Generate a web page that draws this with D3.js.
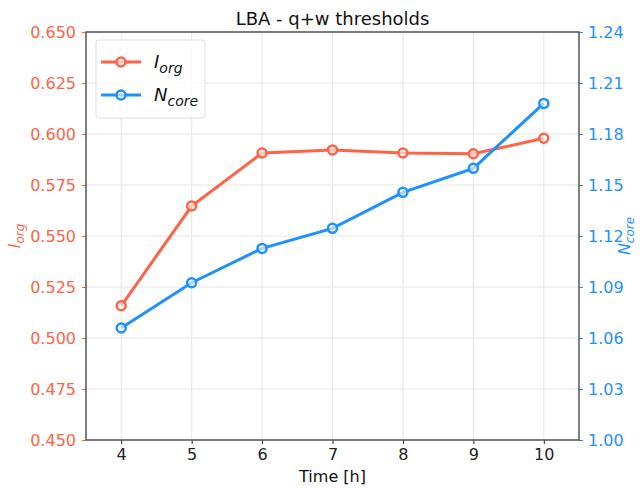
<!DOCTYPE html>
<html>
<head>
<meta charset="utf-8">
<script src="https://cdn.jsdelivr.net/npm/d3@7"></script>
<style>
  body { margin: 0; background: #fff; }
  text { font-family: "DejaVu Sans", sans-serif; }
</style>
</head>
<body>
<div id="chart"></div>
<script>
// data
const hours = [4, 5, 6, 7, 8, 9, 10];
const iorg = [0.5158, 0.5647, 0.5907, 0.5922, 0.5907, 0.5903, 0.5979];
const ncore = [1.0659, 1.0925, 1.1127, 1.1245, 1.1457, 1.1598, 1.1980];
const leftTicks = [0.450, 0.475, 0.500, 0.525, 0.550, 0.575, 0.600, 0.625, 0.650];
const rightTicks = [1.00, 1.03, 1.06, 1.09, 1.12, 1.15, 1.18, 1.21, 1.24];

const W = 642, H = 488;
const margin = { left: 86, right: 63, top: 32, bottom: 48 };
const width = W - margin.left - margin.right;
const height = H - margin.top - margin.bottom;
const orange = '#ff6347', blue = '#1e90ff';

const svg = d3.select('#chart').append('svg')
  .attr('width', W).attr('height', H);
const g = svg.append('g').attr('transform', `translate(${margin.left},${margin.top})`);

const x = d3.scaleLinear().domain([3.5, 10.5]).range([0, width]);
const yL = d3.scaleLinear().domain([0.45, 0.65]).range([height, 0]);
const yR = d3.scaleLinear().domain([1.0, 1.24]).range([height, 0]);

// grid
g.append('g').selectAll('line').data(hours).join('line')
  .attr('x1', d => x(d)).attr('x2', d => x(d)).attr('y1', 0).attr('y2', height)
  .attr('stroke', '#e6e6e6').attr('stroke-width', 1);
g.append('g').selectAll('line').data(leftTicks).join('line')
  .attr('x1', 0).attr('x2', width).attr('y1', d => yL(d)).attr('y2', d => yL(d))
  .attr('stroke', '#e6e6e6').attr('stroke-width', 1);

// axes
const styleAxis = (sel, color) => {
  sel.select('.domain').remove();
  sel.selectAll('.tick line').attr('stroke', color).attr('stroke-width', 1);
  sel.selectAll('.tick text').attr('fill', color).style('font-size', '16px')
    .style('font-family', '"DejaVu Sans", sans-serif');
};
g.append('g').attr('transform', `translate(0,${height})`)
  .call(d3.axisBottom(x).tickValues(hours).tickFormat(d3.format('d')).tickSize(4).tickPadding(5))
  .call(s => styleAxis(s, '#222'));
g.append('g')
  .call(d3.axisLeft(yL).tickValues(leftTicks).tickFormat(d3.format('.3f')).tickSize(4).tickPadding(6))
  .call(s => styleAxis(s, orange));
g.append('g').attr('transform', `translate(${width},0)`)
  .call(d3.axisRight(yR).tickValues(rightTicks).tickFormat(d3.format('.2f')).tickSize(4).tickPadding(5))
  .call(s => styleAxis(s, blue));

// frame
g.append('rect').attr('width', width).attr('height', height)
  .attr('fill', 'none').attr('stroke', '#555').attr('stroke-width', 1.5);

// series
const series = [
  { vals: iorg, y: yL, color: orange },
  { vals: ncore, y: yR, color: blue }
];
series.forEach(s => {
  const line = d3.line().x((d, i) => x(hours[i])).y(d => s.y(d));
  g.append('path').datum(s.vals).attr('d', line)
    .attr('fill', 'none').attr('stroke', s.color).attr('stroke-width', 3);
  g.append('g').selectAll('circle').data(s.vals).join('circle')
    .attr('cx', (d, i) => x(hours[i])).attr('cy', d => s.y(d)).attr('r', 4.5)
    .attr('fill', '#fff').attr('fill-opacity', 0.6)
    .attr('stroke', s.color).attr('stroke-width', 2.5);
});

// title and axis labels
svg.append('text').attr('x', margin.left + width / 2).attr('y', 25)
  .attr('text-anchor', 'middle').style('font-size', '18px').attr('fill', '#111')
  .text('LBA - q+w thresholds');
svg.append('text').attr('x', margin.left + width / 2).attr('y', 482)
  .attr('text-anchor', 'middle').style('font-size', '16px').attr('fill', '#111')
  .text('Time [h]');

const leftLab = svg.append('text').attr('transform', `translate(20,${margin.top + height / 2}) rotate(-90)`)
  .attr('text-anchor', 'middle').attr('fill', orange).style('font-size', '16px').style('font-style', 'italic');
leftLab.append('tspan').text('I');
leftLab.append('tspan').attr('dy', 4).style('font-size', '12px').text('org');

const rightLab = svg.append('text').attr('transform', `translate(630,${margin.top + height / 2}) rotate(-90)`)
  .attr('text-anchor', 'middle').attr('fill', blue).style('font-size', '16px').style('font-style', 'italic');
rightLab.append('tspan').text('N');
rightLab.append('tspan').attr('dy', 4).style('font-size', '12px').text('core');

// legend
const legend = g.append('g').attr('transform', 'translate(10,8)');
legend.append('rect').attr('width', 109).attr('height', 78).attr('rx', 3)
  .attr('fill', '#fff').attr('fill-opacity', 0.85).attr('stroke', '#ddd');
const names = [['I', 'org'], ['N', 'core']];
series.forEach((s, i) => {
  const ly = 22 + i * 33;
  legend.append('line').attr('x1', 5).attr('x2', 45).attr('y1', ly).attr('y2', ly)
    .attr('stroke', s.color).attr('stroke-width', 3);
  legend.append('circle').attr('cx', 25).attr('cy', ly).attr('r', 4.5)
    .attr('fill', '#fff').attr('fill-opacity', 0.6).attr('stroke', s.color).attr('stroke-width', 2.5);
  const t = legend.append('text').attr('x', 58).attr('y', ly + 6)
    .style('font-size', '18px').style('font-style', 'italic').attr('fill', '#111');
  t.append('tspan').text(names[i][0]);
  t.append('tspan').attr('dy', 5).style('font-size', '14px').text(names[i][1]);
});
</script>
</body>
</html>
